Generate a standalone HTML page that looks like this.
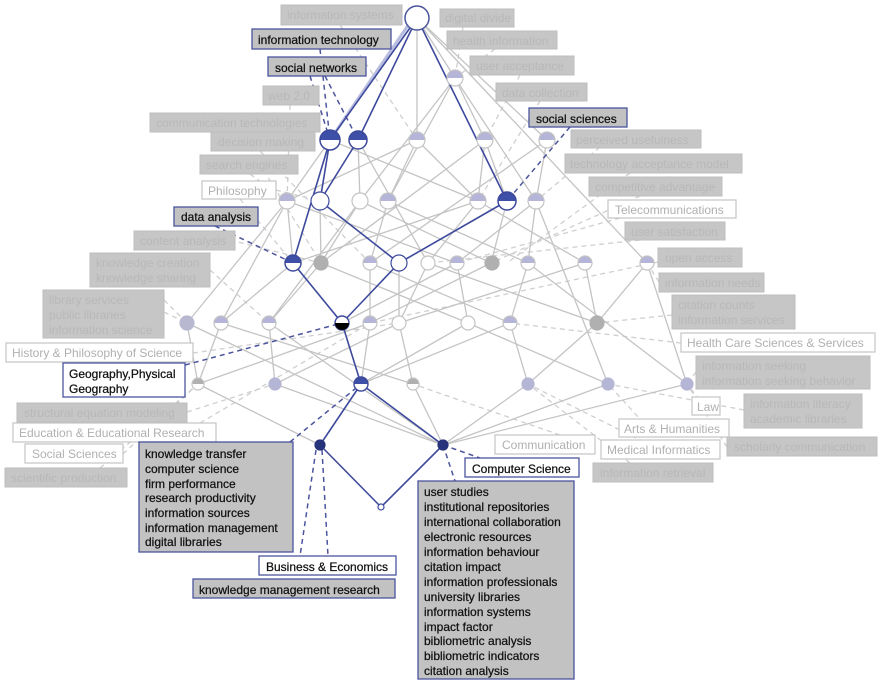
<!DOCTYPE html>
<html><head><meta charset="utf-8"><style>
html,body{margin:0;padding:0;background:#fff;}
svg{display:block;font-family:"Liberation Sans",Arial,sans-serif;font-size:12px;}
.g rect{fill:#c6c6c6;stroke:#bdbdbd;stroke-width:1}
.g text{fill:#b8b8b8}
.w rect{fill:#fff;stroke:#c4c4c4;stroke-width:1.2}
.w text{fill:#b0b0b0}
.h rect{fill:#c2c2c2;stroke:#4b559d;stroke-width:1.3}
.h text{fill:#111;stroke:#111;stroke-width:0.25}
.hw rect{fill:#fff;stroke:#4b559d;stroke-width:1.3}
.hw text{fill:#111;stroke:#111;stroke-width:0.25}
.e line{stroke:#c4c4c4;stroke-width:1.3}
.b line{stroke:#3d4a9c;stroke-width:1.6}
.d line{stroke:#cfcfcf;stroke-width:1.3;stroke-dasharray:5,4}
.db line{stroke:#4b559d;stroke-width:1.5;stroke-dasharray:5,4}
</style></head><body>
<svg width="880" height="683" viewBox="0 0 880 683">
<g class="d">
<line x1="340" y1="25" x2="417" y2="140"/>
<line x1="463" y1="27" x2="455" y2="78"/>
<line x1="495" y1="49" x2="455" y2="78"/>
<line x1="520" y1="75" x2="485" y2="140"/>
<line x1="540" y1="101" x2="478" y2="201"/>
<line x1="290" y1="105" x2="287" y2="201"/>
<line x1="240" y1="132" x2="321" y2="263"/>
<line x1="260" y1="151" x2="370" y2="263"/>
<line x1="250" y1="174" x2="287" y2="201"/>
<line x1="240" y1="199" x2="293" y2="263"/>
<line x1="600" y1="147" x2="536" y2="201"/>
<line x1="630" y1="173" x2="507" y2="263"/>
<line x1="640" y1="196" x2="491" y2="263"/>
<line x1="620" y1="218" x2="457" y2="263"/>
<line x1="640" y1="240" x2="428" y2="263"/>
<line x1="658" y1="262" x2="370" y2="323"/>
<line x1="659" y1="282" x2="647" y2="263"/>
<line x1="230" y1="240" x2="321" y2="263"/>
<line x1="210" y1="270" x2="269" y2="323"/>
<line x1="164" y1="312" x2="187" y2="323"/>
<line x1="164" y1="300" x2="187" y2="323"/>
<line x1="672" y1="315" x2="597" y2="323"/>
<line x1="681" y1="343" x2="510" y2="323"/>
<line x1="696" y1="372" x2="687" y2="384"/>
<line x1="744" y1="410" x2="608" y2="384"/>
<line x1="727" y1="447" x2="687" y2="384"/>
<line x1="630" y1="463" x2="528" y2="384"/>
<line x1="705" y1="407" x2="687" y2="384"/>
<line x1="650" y1="430" x2="608" y2="384"/>
<line x1="660" y1="450" x2="528" y2="384"/>
<line x1="560" y1="435" x2="413" y2="384"/>
<line x1="193" y1="353" x2="399" y2="323"/>
<line x1="187" y1="412" x2="275" y2="384"/>
<line x1="200" y1="423" x2="370" y2="323"/>
<line x1="123" y1="454" x2="198" y2="384"/>
<line x1="100" y1="468" x2="198" y2="384"/>
<line x1="276" y1="190" x2="320" y2="201"/>
</g>
<g class="e">
<line x1="417" y1="18" x2="455" y2="78"/>
<line x1="417" y1="18" x2="417" y2="140"/>
<line x1="417" y1="18" x2="647" y2="263"/>
<line x1="417" y1="18" x2="547" y2="140"/>
<line x1="455" y1="78" x2="485" y2="140"/>
<line x1="455" y1="78" x2="388" y2="201"/>
<line x1="455" y1="78" x2="360" y2="201"/>
<line x1="455" y1="78" x2="536" y2="201"/>
<line x1="330" y1="140" x2="287" y2="201"/>
<line x1="330" y1="140" x2="478" y2="201"/>
<line x1="358" y1="140" x2="360" y2="201"/>
<line x1="358" y1="140" x2="428" y2="263"/>
<line x1="417" y1="140" x2="388" y2="201"/>
<line x1="417" y1="140" x2="478" y2="201"/>
<line x1="417" y1="140" x2="287" y2="201"/>
<line x1="485" y1="140" x2="478" y2="201"/>
<line x1="485" y1="140" x2="507" y2="201"/>
<line x1="485" y1="140" x2="321" y2="263"/>
<line x1="547" y1="140" x2="536" y2="201"/>
<line x1="547" y1="140" x2="370" y2="263"/>
<line x1="287" y1="201" x2="187" y2="323"/>
<line x1="287" y1="201" x2="221" y2="323"/>
<line x1="287" y1="201" x2="293" y2="263"/>
<line x1="287" y1="201" x2="456" y2="263"/>
<line x1="320" y1="201" x2="321" y2="263"/>
<line x1="360" y1="201" x2="321" y2="263"/>
<line x1="360" y1="201" x2="491" y2="263"/>
<line x1="360" y1="201" x2="269" y2="323"/>
<line x1="388" y1="201" x2="370" y2="263"/>
<line x1="388" y1="201" x2="528" y2="263"/>
<line x1="478" y1="201" x2="428" y2="263"/>
<line x1="478" y1="201" x2="585" y2="263"/>
<line x1="478" y1="201" x2="293" y2="263"/>
<line x1="507" y1="201" x2="491" y2="263"/>
<line x1="536" y1="201" x2="528" y2="263"/>
<line x1="536" y1="201" x2="457" y2="263"/>
<line x1="536" y1="201" x2="608" y2="384"/>
<line x1="293" y1="263" x2="221" y2="323"/>
<line x1="321" y1="263" x2="269" y2="323"/>
<line x1="321" y1="263" x2="468" y2="323"/>
<line x1="370" y1="263" x2="370" y2="323"/>
<line x1="370" y1="263" x2="510" y2="323"/>
<line x1="399" y1="263" x2="399" y2="323"/>
<line x1="428" y1="263" x2="399" y2="323"/>
<line x1="428" y1="263" x2="597" y2="323"/>
<line x1="457" y1="263" x2="468" y2="323"/>
<line x1="457" y1="263" x2="342" y2="323"/>
<line x1="491" y1="263" x2="370" y2="323"/>
<line x1="528" y1="263" x2="510" y2="323"/>
<line x1="528" y1="263" x2="687" y2="384"/>
<line x1="585" y1="263" x2="597" y2="323"/>
<line x1="585" y1="263" x2="399" y2="323"/>
<line x1="647" y1="263" x2="597" y2="323"/>
<line x1="647" y1="263" x2="687" y2="384"/>
<line x1="187" y1="323" x2="198" y2="384"/>
<line x1="187" y1="323" x2="443" y2="445"/>
<line x1="221" y1="323" x2="198" y2="384"/>
<line x1="221" y1="323" x2="413" y2="384"/>
<line x1="269" y1="323" x2="275" y2="384"/>
<line x1="269" y1="323" x2="443" y2="445"/>
<line x1="370" y1="323" x2="361" y2="384"/>
<line x1="370" y1="323" x2="198" y2="384"/>
<line x1="399" y1="323" x2="413" y2="384"/>
<line x1="399" y1="323" x2="275" y2="384"/>
<line x1="468" y1="323" x2="361" y2="384"/>
<line x1="468" y1="323" x2="608" y2="384"/>
<line x1="510" y1="323" x2="528" y2="384"/>
<line x1="510" y1="323" x2="361" y2="384"/>
<line x1="597" y1="323" x2="528" y2="384"/>
<line x1="198" y1="384" x2="320" y2="445"/>
<line x1="275" y1="384" x2="443" y2="445"/>
<line x1="413" y1="384" x2="443" y2="445"/>
<line x1="528" y1="384" x2="443" y2="445"/>
<line x1="608" y1="384" x2="443" y2="445"/>
<line x1="687" y1="384" x2="443" y2="445"/>
<line x1="413" y1="18" x2="330" y2="140" style="stroke:#b8bde0;stroke-width:3"/>
</g>
<g class="db">
<line x1="320" y1="49" x2="330" y2="140"/>
<line x1="310" y1="76" x2="330" y2="140"/>
<line x1="325" y1="76" x2="358" y2="140"/>
<line x1="570" y1="127" x2="507" y2="201"/>
<line x1="215" y1="226" x2="293" y2="263"/>
<line x1="185" y1="365" x2="342" y2="323"/>
<line x1="290" y1="442" x2="361" y2="384"/>
<line x1="316" y1="450" x2="300" y2="556"/>
<line x1="322" y1="450" x2="328" y2="556"/>
<line x1="443" y1="445" x2="480" y2="458"/>
<line x1="443" y1="445" x2="455" y2="481"/>
</g>
<g class="b">
<line x1="417" y1="18" x2="330" y2="140"/>
<line x1="417" y1="18" x2="358" y2="140"/>
<line x1="417" y1="18" x2="507" y2="201"/>
<line x1="330" y1="140" x2="320" y2="201"/>
<line x1="330" y1="140" x2="293" y2="263"/>
<line x1="358" y1="140" x2="320" y2="201"/>
<line x1="320" y1="201" x2="399" y2="263"/>
<line x1="507" y1="201" x2="399" y2="263"/>
<line x1="293" y1="263" x2="342" y2="323"/>
<line x1="399" y1="263" x2="342" y2="323"/>
<line x1="342" y1="323" x2="361" y2="384"/>
<line x1="361" y1="384" x2="320" y2="445"/>
<line x1="361" y1="384" x2="443" y2="445"/>
<line x1="320" y1="445" x2="381" y2="507"/>
<line x1="443" y1="445" x2="381" y2="507"/>
</g>
<g id="nodes">
<circle cx="417" cy="18" r="12" fill="#fff" stroke="#4b559d" stroke-width="1.5"/>
</g>
<script>
(function(){
var ns="http://www.w3.org/2000/svg",g=document.getElementById('nodes');
function half(x,y,r,c,s,sw){
 var a=document.createElementNS(ns,'circle');a.setAttribute('cx',x);a.setAttribute('cy',y);a.setAttribute('r',r);a.setAttribute('fill','#fff');g.appendChild(a);
 var p=document.createElementNS(ns,'path');p.setAttribute('d','M'+(x-r)+' '+y+' A'+r+' '+r+' 0 0 1 '+(x+r)+' '+y+' Z');p.setAttribute('fill',c);g.appendChild(p);
 var o=document.createElementNS(ns,'circle');o.setAttribute('cx',x);o.setAttribute('cy',y);o.setAttribute('r',r);o.setAttribute('fill','none');o.setAttribute('stroke',s);o.setAttribute('stroke-width',sw||1.2);g.appendChild(o);
}
function full(x,y,r,c,s){var a=document.createElementNS(ns,'circle');a.setAttribute('cx',x);a.setAttribute('cy',y);a.setAttribute('r',r);a.setAttribute('fill',c);a.setAttribute('stroke',s);a.setAttribute('stroke-width',1.2);g.appendChild(a);}
var LP='#b5b5da',LS='#c4c4c4',BL='#3d4fa6',BS='#3d4a9c',GR='#b0b0b0',W='#fff';
half(455,78,8,LP,LS);
half(330,140,10,BL,BS,1.5);half(358,140,9,BL,BS,1.5);half(417,140,8,LP,LS);half(485,140,8,LP,LS);half(547,140,8,LP,LS);
half(287,201,8,LP,LS);full(320,201,9,W,BS);full(360,201,8,W,LS);half(388,201,8,LP,LS);half(478,201,8,LP,LS);half(507,201,9,BL,BS,1.5);half(536,201,8,LP,LS);
half(293,263,8,BL,BS,1.5);full(321,263,7,GR,GR);half(370,263,7,LP,LS);full(399,263,8,W,BS);full(428,263,7,W,LS);half(457,263,7,LP,LS);full(492,263,7,GR,GR);half(528,263,7,LP,LS);half(585,263,7,LP,LS);half(647,263,7,LP,LS);
full(187,323,7,'#b8b8d0','#b8b8d0');half(221,323,7,LP,LS);half(269,323,7,LP,LS);half(342,323,7,'#fff',BS,1.4);
var bp=document.createElementNS(ns,'path');bp.setAttribute('d','M335 323 A7 7 0 0 0 349 323 Z');bp.setAttribute('fill','#000');g.appendChild(bp);
half(370,323,7,LP,LS);full(399,323,7,W,LS);full(468,323,7,W,LS);half(510,323,7,LP,LS);full(597,323,7,GR,GR);
half(198,384,6,GR,LS);full(275,384,6,'#b5b5d5','#b5b5d5');half(361,384,7,BL,BS,1.4);half(413,384,6,GR,LS);full(528,384,6,'#b5b5d5','#b5b5d5');full(608,384,6,'#b5b5d5','#b5b5d5');full(687,384,6,'#b5b5d5','#b5b5d5');
full(320,445,5,'#27337a','#27337a');full(443,445,5,'#27337a','#27337a');
full(381,507,3,W,BS);
})();
</script>
<g class="g">
<rect x="281" y="5" width="121" height="20"/><text x="287" y="19">information systems</text>
<rect x="440" y="9" width="74" height="18"/><text x="445" y="22">digital divide</text>
<rect x="447" y="31" width="110" height="18"/><text x="453" y="45">health information</text>
<rect x="470" y="56" width="104" height="19"/><text x="476" y="70">user acceptance</text>
<rect x="496" y="83" width="91" height="18"/><text x="502" y="97">data collection</text>
<rect x="263" y="86" width="56" height="19"/><text x="268" y="100">web 2.0</text>
<rect x="150" y="113" width="170" height="19"/><text x="156" y="127">communication technologies</text>
<rect x="211" y="132" width="104" height="19"/><text x="218" y="146">decision making</text>
<rect x="200" y="155" width="98" height="19"/><text x="206" y="169">search engines</text>
<rect x="571" y="130" width="130" height="18"/><text x="576" y="144">perceived usefulness</text>
<rect x="565" y="154" width="177" height="19"/><text x="570" y="168">technology acceptance model</text>
<rect x="589" y="177" width="133" height="19"/><text x="595" y="191">competitive advantage</text>
<rect x="625" y="222" width="100" height="18"/><text x="631" y="236">user satisfaction</text>
<rect x="134" y="231" width="101" height="19"/><text x="140" y="245">content analysis</text>
<rect x="90" y="253" width="120" height="34"/><text x="96" y="267">knowledge creation</text><text x="96" y="282">knowledge sharing</text>
<rect x="43" y="290" width="121" height="48"/><text x="49" y="304">library services</text><text x="49" y="319">public libraries</text><text x="49" y="334">information science</text>
<rect x="658" y="248" width="84" height="19"/><text x="665" y="262">open access</text>
<rect x="659" y="273" width="105" height="19"/><text x="665" y="287">information needs</text>
<rect x="672" y="295" width="123" height="34"/><text x="678" y="309">citation counts</text><text x="678" y="324">information services</text>
<rect x="696" y="356" width="174" height="33"/><text x="702" y="370">information seeking</text><text x="702" y="385">information seeking behavior</text>
<rect x="744" y="394" width="118" height="34"/><text x="750" y="408">information literacy</text><text x="750" y="423">academic libraries</text>
<rect x="727" y="437" width="150" height="19"/><text x="734" y="451">scholarly communication</text>
<rect x="593" y="463" width="120" height="19"/><text x="600" y="477">information retrieval</text>
<rect x="17" y="403" width="170" height="19"/><text x="24" y="417">structural equation modeling</text>
<rect x="5" y="468" width="122" height="19"/><text x="11" y="482">scientific production</text>
</g>
<g class="w">
<rect x="202" y="181" width="74" height="18"/><text x="208" y="195">Philosophy</text>
<rect x="608" y="200" width="128" height="18"/><text x="615" y="214">Telecommunications</text>
<rect x="6" y="343" width="187" height="19"/><text x="12" y="357">History &amp; Philosophy of Science</text>
<rect x="681" y="333" width="194" height="19"/><text x="687" y="347">Health Care Sciences &amp; Services</text>
<rect x="692" y="397" width="28" height="18"/><text x="697" y="411">Law</text>
<rect x="619" y="419" width="110" height="18"/><text x="624" y="433">Arts &amp; Humanities</text>
<rect x="13" y="423" width="203" height="19"/><text x="19" y="437">Education &amp; Educational Research</text>
<rect x="25" y="444" width="98" height="19"/><text x="32" y="458">Social Sciences</text>
<rect x="495" y="435" width="100" height="19"/><text x="502" y="449">Communication</text>
<rect x="601" y="440" width="119" height="19"/><text x="607" y="454">Medical Informatics</text>
</g>
<g class="h">
<rect x="252" y="29" width="139" height="20"/><text x="258" y="44">information technology</text>
<rect x="268" y="57" width="98" height="19"/><text x="275" y="72">social networks</text>
<rect x="529" y="108" width="98" height="19"/><text x="536" y="123">social sciences</text>
<rect x="174" y="207" width="84" height="19"/><text x="181" y="221">data analysis</text>
<rect x="139" y="442" width="154" height="110"/>
<text x="145" y="458">knowledge transfer</text><text x="145" y="473">computer science</text><text x="145" y="488">firm performance</text><text x="145" y="502">research productivity</text><text x="145" y="517">information sources</text><text x="145" y="532">information management</text><text x="145" y="546">digital libraries</text>
<rect x="193" y="579" width="202" height="19"/><text x="199" y="594">knowledge management research</text>
<rect x="418" y="481" width="156" height="198"/>
<text x="424" y="496">user studies</text><text x="424" y="511">institutional repositories</text><text x="424" y="526">international collaboration</text><text x="424" y="541">electronic resources</text><text x="424" y="556">information behaviour</text><text x="424" y="571">citation impact</text><text x="424" y="586">information professionals</text><text x="424" y="601">university libraries</text><text x="424" y="616">information systems</text><text x="424" y="631">impact factor</text><text x="424" y="645">bibliometric analysis</text><text x="424" y="660">bibliometric indicators</text><text x="424" y="675">citation analysis</text>
</g>
<g class="hw">
<rect x="63" y="363" width="122" height="34"/><text x="69" y="378">Geography,Physical</text><text x="69" y="393">Geography</text>
<rect x="465" y="458" width="114" height="19"/><text x="472" y="473">Computer Science</text>
<rect x="259" y="556" width="137" height="19"/><text x="266" y="571">Business &amp; Economics</text>
</g>
</svg>
</body></html>
